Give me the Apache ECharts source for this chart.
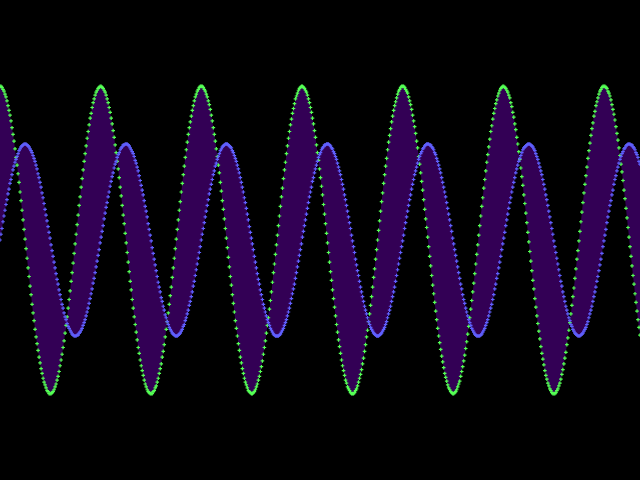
<!DOCTYPE html>
<html>
<head>
<meta charset="utf-8">
<script src="https://cdn.jsdelivr.net/npm/echarts@6/dist/echarts.min.js"></script>
<style>html,body{margin:0;padding:0;background:#000;}#c{width:640px;height:480px;}</style>
</head>
<body>
<div id="c"></div>
<script>
// Green wave (larger amplitude), one value per sample
const greenWave = [
1.6,1.6,1.59,1.57,1.55,1.52,1.49,1.45,1.4,1.35,
1.3,1.24,1.17,1.1,1.03,.95,.86,.78,.69,.6,
.5,.41,.31,.21,.11,.01,-.09,-.19,-.29,-.38,
-.48,-.57,-.67,-.76,-.84,-.93,-1.01,-1.08,-1.15,-1.22,
-1.28,-1.34,-1.39,-1.44,-1.48,-1.51,-1.54,-1.57,-1.58,-1.6,
-1.6,-1.6,-1.59,-1.58,-1.56,-1.53,-1.5,-1.46,-1.42,-1.37,
-1.31,-1.25,-1.19,-1.12,-1.05,-.97,-.89,-.8,-.71,-.62,
-.53,-.43,-.34,-.24,-.14,-.04,.06,.16,.26,.36,
.45,.55,.64,.73,.82,.9,.98,1.06,1.13,1.2,
1.27,1.32,1.38,1.43,1.47,1.51,1.54,1.56,1.58,1.59,
1.6,1.6,1.59,1.58,1.56,1.54,1.51,1.47,1.43,1.38,
1.33,1.27,1.21,1.14,1.07,.99,.91,.82,.74,.65,
.55,.46,.36,.26,.17,.07,-.03,-.13,-.23,-.33,
-.43,-.52,-.62,-.71,-.8,-.88,-.96,-1.04,-1.12,-1.18,
-1.25,-1.31,-1.36,-1.41,-1.46,-1.5,-1.53,-1.56,-1.58,-1.59,
-1.6,-1.6,-1.6,-1.58,-1.57,-1.54,-1.52,-1.48,-1.44,-1.39,
-1.34,-1.29,-1.22,-1.16,-1.09,-1.01,-.93,-.85,-.76,-.67,
-.58,-.49,-.39,-.29,-.19,-.09,.01,.11,.21,.31,
.4,.5,.59,.68,.77,.86,.94,1.02,1.1,1.17,
1.23,1.29,1.35,1.4,1.45,1.49,1.52,1.55,1.57,1.59,
1.6,1.6,1.6,1.59,1.57,1.55,1.52,1.49,1.45,1.41,
1.36,1.3,1.24,1.17,1.1,1.03,.95,.87,.78,.7,
.6,.51,.41,.32,.22,.12,.02,-.08,-.18,-.28,
-.38,-.47,-.57,-.66,-.75,-.84,-.92,-1,-1.08,-1.15,
-1.22,-1.28,-1.34,-1.39,-1.44,-1.48,-1.51,-1.54,-1.57,-1.58,
-1.59,-1.6,-1.6,-1.59,-1.58,-1.56,-1.53,-1.5,-1.46,-1.42,
-1.37,-1.32,-1.26,-1.19,-1.12,-1.05,-.97,-.89,-.81,-.72,
-.63,-.54,-.44,-.34,-.25,-.15,-.05,.05,.15,.25,
.35,.45,.54,.64,.73,.81,.9,.98,1.06,1.13,
1.2,1.26,1.32,1.37,1.42,1.47,1.5,1.53,1.56,1.58,
1.59,1.6,1.6,1.59,1.58,1.56,1.54,1.51,1.47,1.43,
1.38,1.33,1.27,1.21,1.14,1.07,.99,.91,.83,.74,
.65,.56,.47,.37,.27,.17,.07,-.03,-.13,-.23,
-.33,-.42,-.52,-.61,-.7,-.79,-.88,-.96,-1.04,-1.11,
-1.18,-1.25,-1.31,-1.36,-1.41,-1.46,-1.49,-1.53,-1.55,-1.57,
-1.59,-1.6,-1.6,-1.6,-1.59,-1.57,-1.55,-1.52,-1.48,-1.44,
-1.4,-1.35,-1.29,-1.23,-1.16,-1.09,-1.01,-.94,-.85,-.77,
-.68,-.59,-.49,-.39,-.3,-.2,-.1,0,.1,.2,
.3,.4,.49,.59,.68,.77,.85,.94,1.02,1.09,
1.16,1.23,1.29,1.35,1.4,1.44,1.48,1.52,1.55,1.57,
1.59,1.6,1.6,1.6,1.59,1.57,1.55,1.53,1.49,1.45,
1.41,1.36,1.3,1.24,1.18,1.11,1.03,.96,.87,.79,
.7,.61,.52,.42,.32,.22,.13,.03,-.07,-.17,
-.27,-.37,-.47,-.56,-.65,-.74,-.83,-.92,-1,-1.07,
-1.14,-1.21,-1.27,-1.33,-1.39,-1.43,-1.47,-1.51,-1.54,-1.56,
-1.58,-1.59,-1.6,-1.6,-1.59,-1.58,-1.56,-1.53,-1.5,-1.47,
-1.42,-1.37,-1.32,-1.26,-1.2,-1.13,-1.06,-.98,-.9,-.81,
-.72,-.63,-.54,-.45,-.35,-.25,-.15,-.05,.05,.15,
.25,.35,.44,.54,.63,.72,.81,.89,.97,1.05,
1.13,1.19,1.26,1.32,1.37,1.42,1.46,1.5,1.53,1.56,
1.58,1.59,1.6,1.6,1.59,1.58,1.56,1.54,1.51,1.48,
1.43,1.39,1.33,1.28,1.21,1.15,1.07,1,.92,.84,
.75,.66,.57,.47,.38,.28,.18,.08,-.02,-.12,
-.22,-.32,-.42,-.51,-.61,-.7,-.79,-.87,-.95,-1.03,
-1.11,-1.18,-1.24,-1.3,-1.36,-1.41,-1.45,-1.49,-1.52,-1.55,
-1.57,-1.59,-1.6,-1.6,-1.6,-1.59,-1.57,-1.55,-1.52,-1.49,
-1.45,-1.4,-1.35,-1.29,-1.23,-1.17,-1.09,-1.02,-.94,-.86,
-.77,-.68,-.59,-.5,-.4,-.3,-.2,-.11,-.01,.09,
.19,.29,.39,.49,.58,.67,.76,.85,.93,1.01,
1.09,1.16,1.22,1.29,1.34,1.4,1.44,1.48,1.52,1.55,
1.57,1.59,1.6,1.6,1.6,1.59,1.58,1.55,1.53,1.5,
1.46,1.41,1.36,1.31,1.25,1.18,1.11,1.04,.96,.88,
.79,.71,.62,.52,.43,.33,.23,.13,.03,-.07,
-.17,-.27,-.37,-.46,-.56,-.65,-.74,-.83,-.91,-.99
];
// Blue wave (smaller amplitude), one value per sample
const blueWave = [
0,.06,.12,.19,.25,.31,.37,.42,.48,.53,
.59,.63,.68,.73,.77,.81,.84,.87,.9,.93,
.95,.97,.98,.99,1,1,1,.99,.98,.97,
.95,.93,.91,.88,.85,.82,.78,.74,.69,.65,
.6,.55,.49,.44,.38,.32,.26,.2,.14,.08,
.02,-.05,-.11,-.17,-.23,-.29,-.35,-.41,-.46,-.52,
-.57,-.62,-.67,-.71,-.76,-.8,-.83,-.87,-.9,-.92,
-.94,-.96,-.98,-.99,-1,-1,-1,-.99,-.99,-.97,
-.96,-.94,-.92,-.89,-.86,-.83,-.79,-.75,-.71,-.66,
-.61,-.56,-.51,-.45,-.4,-.34,-.28,-.22,-.16,-.1,
-.03,.03,.09,.15,.22,.28,.34,.39,.45,.5,
.56,.61,.66,.7,.75,.79,.82,.86,.89,.91,
.94,.96,.97,.99,.99,1,1,1,.99,.98,
.96,.94,.92,.9,.87,.83,.8,.76,.72,.67,
.62,.57,.52,.47,.41,.35,.3,.24,.17,.11,
.05,-.01,-.08,-.14,-.2,-.26,-.32,-.38,-.44,-.49,
-.54,-.6,-.64,-.69,-.73,-.78,-.81,-.85,-.88,-.91,
-.93,-.95,-.97,-.98,-.99,-1,-1,-1,-.99,-.98,
-.97,-.95,-.93,-.9,-.88,-.84,-.81,-.77,-.73,-.68,
-.64,-.59,-.54,-.48,-.43,-.37,-.31,-.25,-.19,-.13,
-.07,0,.06,.12,.18,.24,.3,.36,.42,.48,
.53,.58,.63,.68,.72,.77,.8,.84,.87,.9,
.93,.95,.97,.98,.99,1,1,1,.99,.98,
.97,.96,.93,.91,.88,.85,.82,.78,.74,.7,
.65,.6,.55,.5,.44,.39,.33,.27,.21,.14,
.08,.02,-.04,-.1,-.17,-.23,-.29,-.35,-.41,-.46,
-.52,-.57,-.62,-.67,-.71,-.75,-.79,-.83,-.86,-.89,
-.92,-.94,-.96,-.98,-.99,-1,-1,-1,-1,-.99,
-.98,-.96,-.94,-.92,-.89,-.86,-.83,-.79,-.75,-.71,
-.66,-.61,-.56,-.51,-.46,-.4,-.34,-.28,-.22,-.16,
-.1,-.04,.03,.09,.15,.21,.27,.33,.39,.45,
.5,.55,.61,.65,.7,.74,.78,.82,.86,.89,
.91,.94,.96,.97,.99,.99,1,1,1,.99,
.98,.96,.95,.92,.9,.87,.84,.8,.76,.72,
.68,.63,.58,.53,.47,.42,.36,.3,.24,.18,
.12,.05,-.01,-.07,-.13,-.2,-.26,-.32,-.37,-.43,
-.49,-.54,-.59,-.64,-.69,-.73,-.77,-.81,-.85,-.88,
-.91,-.93,-.95,-.97,-.98,-.99,-1,-1,-1,-.99,
-.98,-.97,-.95,-.93,-.91,-.88,-.85,-.81,-.77,-.73,
-.69,-.64,-.59,-.54,-.49,-.43,-.37,-.31,-.25,-.19,
-.13,-.07,-.01,.05,.12,.18,.24,.3,.36,.42,
.47,.53,.58,.63,.68,.72,.76,.8,.84,.87,
.9,.92,.95,.96,.98,.99,1,1,1,.99,
.99,.97,.96,.94,.91,.89,.85,.82,.78,.74,
.7,.65,.6,.55,.5,.45,.39,.33,.27,.21,
.15,.09,.02,-.04,-.1,-.16,-.22,-.28,-.34,-.4,
-.46,-.51,-.57,-.62,-.66,-.71,-.75,-.79,-.83,-.86,
-.89,-.92,-.94,-.96,-.98,-.99,-1,-1,-1,-1,
-.99,-.98,-.96,-.94,-.92,-.89,-.86,-.83,-.79,-.75,
-.71,-.67,-.62,-.57,-.51,-.46,-.4,-.35,-.29,-.23,
-.17,-.1,-.04,.02,.08,.15,.21,.27,.33,.39,
.44,.5,.55,.6,.65,.7,.74,.78,.82,.85,
.88,.91,.94,.96,.97,.98,.99,1,1,1,
.99,.98,.97,.95,.93,.9,.87,.84,.8,.76,
.72,.68,.63,.58,.53,.47,.42,.36,.3,.24,
.18,.12,.06,-.01,-.07,-.13,-.19,-.25,-.31,-.37,
-.43,-.48,-.54,-.59,-.64,-.69,-.73,-.77,-.81,-.84,
-.88,-.9,-.93,-.95,-.97,-.98,-.99,-1,-1,-1,
-.99,-.98,-.97,-.95,-.93,-.91,-.88,-.85,-.81,-.77,
-.73,-.69,-.64,-.59,-.54,-.49,-.43,-.38,-.32,-.26,
-.2,-.14,-.07,-.01,.05,.11,.18,.24,.3,.36,
.41,.47,.52,.58,.63,.67,.72,.76,.8,.84,
.87,.9,.92,.95,.96,.98,.99,1,1,1,
.99,.99,.97,.96,.94,.91,.89,.86,.82,.79
];
const sampleIndex = greenWave.map((_, i) => String(i));

const bandLow = greenWave.map((g, i) => Math.min(g, blueWave[i]));
const bandSpan = greenWave.map((g, i) => Math.abs(g - blueWave[i]));

const plus = 'path://M1 0h1v1h1v1h-1v1h-1v-1h-1v-1h1z';

const chart = echarts.init(document.getElementById('c'), null, {renderer: 'canvas'});
chart.setOption({
  backgroundColor: '#000000',
  animation: false,
  grid: {left: 0, right: 0, top: 0, bottom: 0},
  xAxis: {type: 'category', data: sampleIndex, boundaryGap: false, show: false},
  yAxis: {type: 'value', min: -2.5, max: 2.5, show: false},
  series: [
    {type: 'line', data: bandLow, stack: 'band', stackStrategy: 'all', symbol: 'none',
     lineStyle: {opacity: 0, width: 0}, silent: true, z: 1},
    {type: 'line', data: bandSpan, stack: 'band', stackStrategy: 'all', symbol: 'none',
     lineStyle: {opacity: 0, width: 0}, areaStyle: {color: '#330055', opacity: 1}, silent: true, z: 1},
    {type: 'scatter', data: greenWave, symbol: plus, symbolSize: 3.6, z: 3,
     itemStyle: {color: '#55ff55', opacity: 1}, silent: true},
    {type: 'scatter', data: blueWave, symbol: plus, symbolSize: 3.6, z: 4,
     itemStyle: {color: '#6060ff', opacity: 1}, silent: true}
  ]
});
</script>
</body>
</html>
